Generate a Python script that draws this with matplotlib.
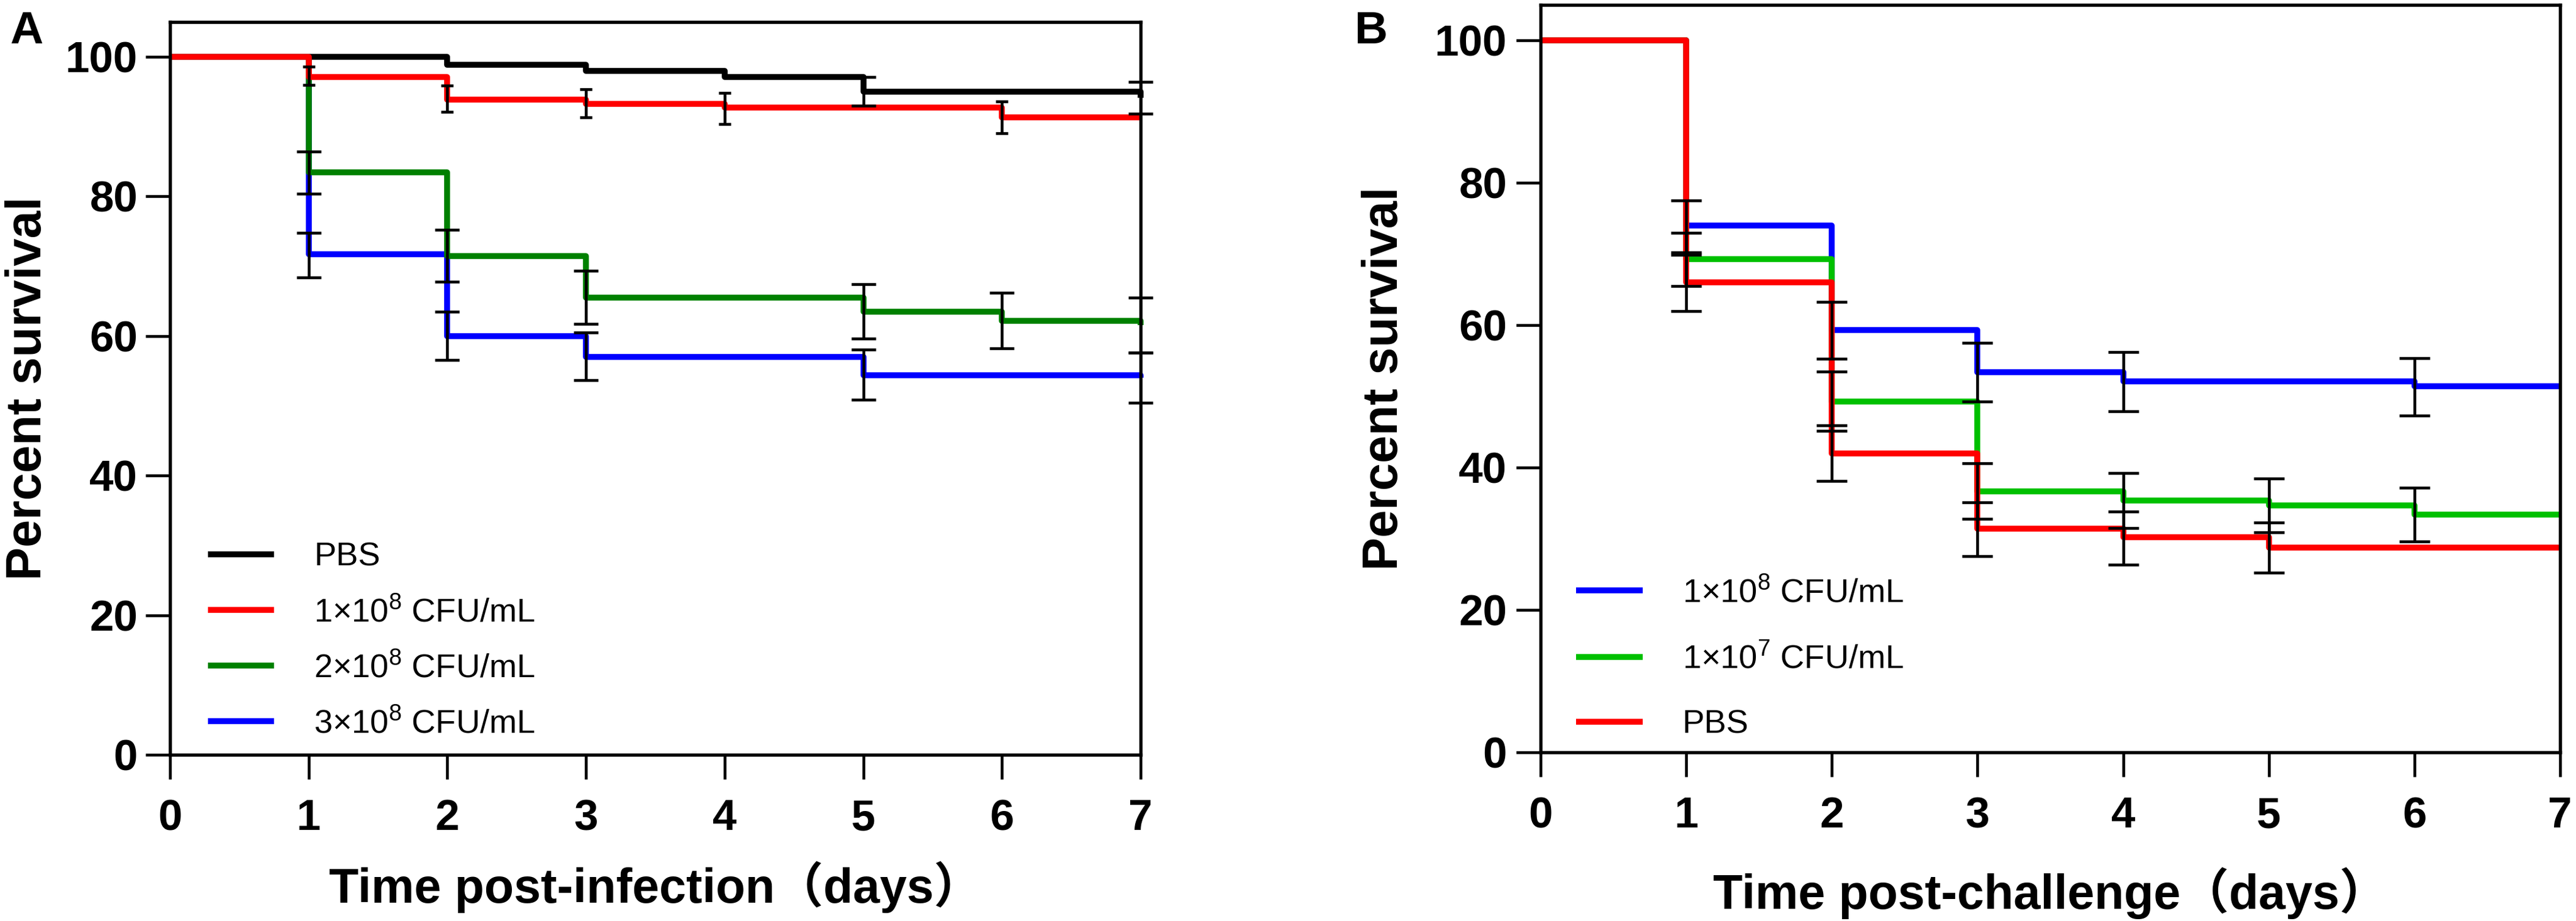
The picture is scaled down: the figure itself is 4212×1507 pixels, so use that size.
import numpy as np
from matplotlib import pyplot as plt

plt.rcParams['font.family'] = ['Liberation Sans', 'Noto Sans CJK SC', 'DejaVu Sans']
plt.rcParams['mathtext.fontset'] = 'custom'
plt.rcParams['mathtext.rm'] = 'Liberation Sans'
plt.rcParams['mathtext.it'] = 'Liberation Sans:italic'
plt.rcParams['mathtext.bf'] = 'Liberation Sans:bold'

###################################################### DATA - panel A
a_pbs_t = [0, 2, 3, 4, 5, 7]
a_pbs_s = [100, 98.9, 98.0, 97.1, 95.0, 94.1]
a_pbs_ed = [5, 7]
a_pbs_lo = [93.0, 91.9]
a_pbs_hi = [97.1, 96.4]

a_1e8_t = [0, 1, 2, 3, 4, 6, 7]
a_1e8_s = [100, 97.1, 93.9, 93.3, 92.7, 91.3, 91.3]
a_1e8_ed = [1, 2, 3, 4, 6]
a_1e8_lo = [96.0, 92.1, 91.3, 90.4, 89.1]
a_1e8_hi = [98.65, 95.9, 95.4, 94.8, 93.6]

a_2e8_t = [0, 1, 2, 3, 5, 6, 7]
a_2e8_s = [100, 83.5, 71.5, 65.5, 63.5, 62.2, 61.6]
a_2e8_ed = [1, 2, 3, 5, 6, 7]
a_2e8_lo = [80.4, 67.8, 61.7, 59.6, 58.2, 57.6]
a_2e8_hi = [86.4, 75.2, 69.4, 67.4, 66.2, 65.5]

a_3e8_t = [0, 1, 2, 3, 5, 7]
a_3e8_s = [100, 71.7, 60.0, 57.0, 54.4, 54.0]
a_3e8_ed = [1, 2, 3, 5, 7]
a_3e8_lo = [68.4, 56.6, 53.7, 50.9, 50.4]
a_3e8_hi = [74.8, 63.5, 60.5, 58.1, 57.6]

###################################################### DATA - panel B
b_1e8_t = [0, 1, 2, 3, 4, 6, 7]
b_1e8_s = [100, 74.0, 59.3, 53.4, 52.1, 51.4, 51.4]
b_1e8_ed = [1, 2, 3, 4, 6]
b_1e8_lo = [70.2, 55.3, 49.3, 47.9, 47.3]
b_1e8_hi = [77.5, 63.3, 57.5, 56.2, 55.4]

b_1e7_t = [0, 1, 2, 3, 4, 5, 6, 7]
b_1e7_s = [100, 69.3, 49.3, 36.7, 35.4, 34.7, 33.4, 33.4]
b_1e7_ed = [1, 2, 3, 4, 5, 6]
b_1e7_lo = [65.5, 45.2, 32.8, 31.5, 30.9, 29.6]
b_1e7_hi = [73.0, 53.5, 40.6, 39.2, 38.5, 37.2]

b_pbs_t = [0, 1, 2, 3, 4, 5, 7]
b_pbs_s = [100, 66.0, 42.0, 31.4, 30.2, 28.8, 28.8]
b_pbs_ed = [1, 2, 3, 4, 5]
b_pbs_lo = [62.0, 38.1, 27.6, 26.4, 25.2]
b_pbs_hi = [69.9, 45.9, 35.1, 33.8, 32.3]

day_ticks = [0, 1, 2, 3, 4, 5, 6, 7]
pct_ticks = [0, 20, 40, 60, 80, 100]

W, H = 4212, 1507
fig = plt.figure(figsize=(W / 300, H / 300), dpi=300)
axA = fig.add_axes([278 / W, 1 - 1235 / H, 1587 / W, 1199 / H])
axB = fig.add_axes([2519 / W, 1 - 1231 / H, 1667 / W, 1223 / H])

LW = 2.3


def curve(ax, t, s, color, label):
    line, = ax.step(t, s, where='post', color=color, lw=LW, label=label,
                    clip_on=False, solid_capstyle='butt')
    return line


def bars(ax, d, lo, hi, cap):
    lo = np.array(lo)
    hi = np.array(hi)
    ax.errorbar(d, (lo + hi) / 2, yerr=(hi - lo) / 2, fmt='none', ecolor='black',
                elinewidth=1.1, capsize=cap, capthick=1.1, zorder=5, clip_on=False)


def style(ax, ytick_pad):
    ax.set_xlim(0, 7)
    ax.set_ylim(0, 105)
    ax.set_xticks(day_ticks, [str(v) for v in day_ticks], fontweight='bold')
    ax.set_yticks(pct_ticks, [str(v) for v in pct_ticks], fontweight='bold')
    ax.tick_params(axis='both', direction='out', length=9.6, width=1.1, labelsize=17)
    ax.tick_params(axis='x', pad=7.7)
    ax.tick_params(axis='y', pad=ytick_pad)
    for sp in ax.spines.values():
        sp.set_linewidth(1.3)


###################################################### PANEL A
lb = curve(axA, a_3e8_t, a_3e8_s, '#0000ff', '3×10$^8$ CFU/mL')
lg = curve(axA, a_2e8_t, a_2e8_s, '#008000', '2×10$^8$ CFU/mL')
lk = curve(axA, a_pbs_t, a_pbs_s, '#000000', 'PBS')
lr = curve(axA, a_1e8_t, a_1e8_s, '#ff0000', '1×10$^8$ CFU/mL')
bars(axA, a_pbs_ed, a_pbs_lo, a_pbs_hi, 4.8)
bars(axA, a_1e8_ed, a_1e8_lo, a_1e8_hi, 2.3)
bars(axA, a_2e8_ed, a_2e8_lo, a_2e8_hi, 4.8)
bars(axA, a_3e8_ed, a_3e8_lo, a_3e8_hi, 4.8)
style(axA, 3.1)
axA.legend(handles=[lk, lr, lg, lb], loc='center left', bbox_to_anchor=(0.039, 0.1555),
           frameon=False, fontsize=13, handlelength=2.0, handletextpad=1.2,
           labelspacing=0.74, borderpad=0, borderaxespad=0)
axA.set_ylabel('Percent survival', fontsize=19.5, fontweight='bold')
axA.yaxis.set_label_coords(-0.1222, 0.5)
axA.set_xlabel('Time post-infection（days）', fontsize=19, fontweight='bold', va='baseline')
axA.xaxis.set_label_coords(0.5, -0.2018)

###################################################### PANEL B
mb = curve(axB, b_1e8_t, b_1e8_s, '#0000ff', '1×10$^8$ CFU/mL')
mg = curve(axB, b_1e7_t, b_1e7_s, '#00c000', '1×10$^7$ CFU/mL')
mr = curve(axB, b_pbs_t, b_pbs_s, '#ff0000', 'PBS')
bars(axB, b_1e8_ed, b_1e8_lo, b_1e8_hi, 6)
bars(axB, b_1e7_ed, b_1e7_lo, b_1e7_hi, 6)
bars(axB, b_pbs_ed, b_pbs_lo, b_pbs_hi, 6)
style(axB, 3.6)
axB.legend(handles=[mb, mg, mr], loc='center left', bbox_to_anchor=(0.035, 0.125),
           frameon=False, fontsize=13, handlelength=2.0, handletextpad=1.2,
           labelspacing=1.04, borderpad=0, borderaxespad=0)
axB.set_ylabel('Percent survival', fontsize=19.5, fontweight='bold')
axB.yaxis.set_label_coords(-0.130, 0.5)
axB.set_xlabel('Time post-challenge（days）', fontsize=19, fontweight='bold', va='baseline')
axB.xaxis.set_label_coords(0.5, -0.209)

fig.text(16 / W, 1 - 71 / H, 'A', fontsize=18, fontweight='bold', va='baseline')
fig.text(2215 / W, 1 - 71 / H, 'B', fontsize=18, fontweight='bold', va='baseline')

fig.savefig('out.png', dpi=300)
